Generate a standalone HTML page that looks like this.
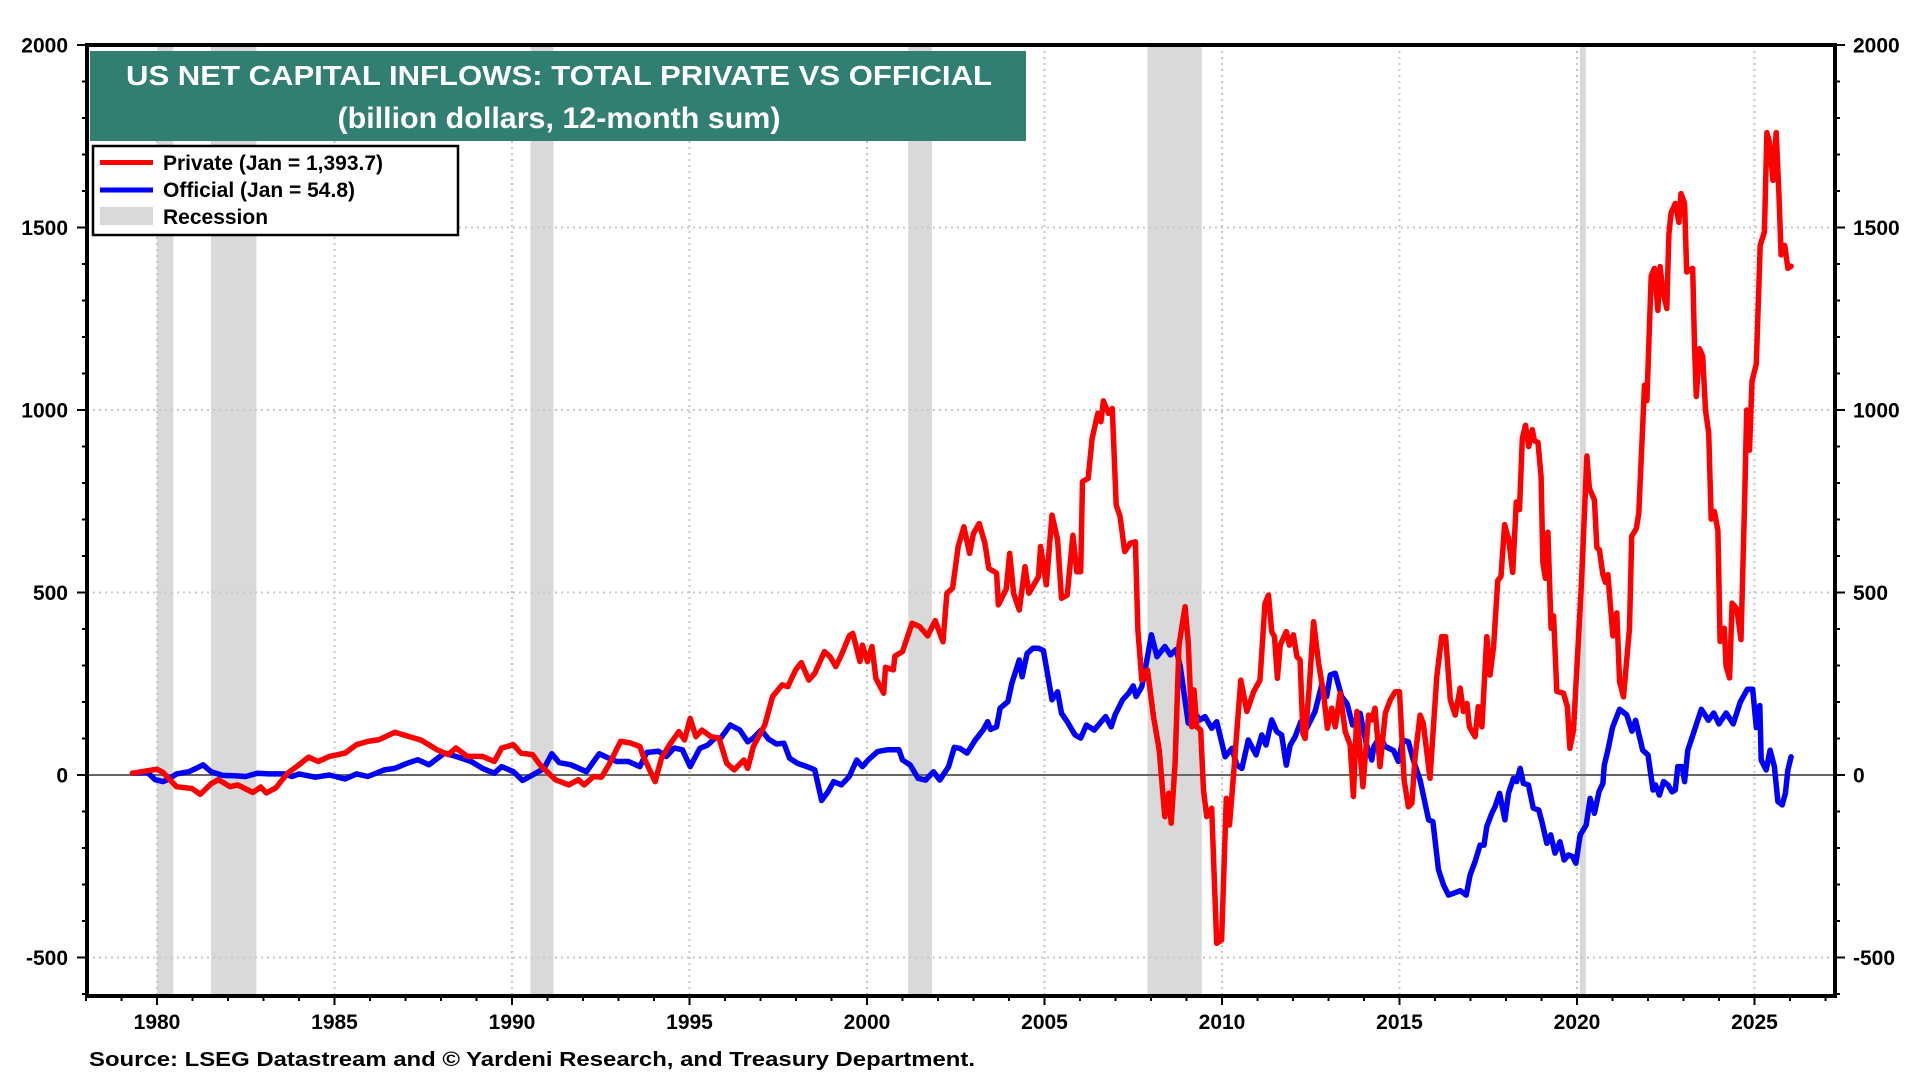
<!DOCTYPE html>
<html><head><meta charset="utf-8"><style>
html,body{margin:0;padding:0;background:#fff;width:1920px;height:1080px;overflow:hidden}
svg{display:block;font-family:"Liberation Sans",Arial,sans-serif}
</style></head><body>
<svg id="chart" width="1920" height="1080" viewBox="0 0 1920 1080" xmlns="http://www.w3.org/2000/svg"></svg>
<script>
const privYears=[1979.31,1980.0,1980.17,1980.55,1980.98,1981.22,1981.52,1981.73,1982.06,1982.27,1982.7,1982.92,1983.08,1983.35,1983.68,1984.0,1984.27,1984.54,1984.86,1985.3,1985.62,1985.94,1986.26,1986.7,1987.01,1987.45,1987.88,1988.2,1988.42,1988.74,1989.17,1989.5,1989.71,1990.04,1990.25,1990.58,1990.79,1991.22,1991.6,1991.87,1992.03,1992.3,1992.52,1992.73,1993.06,1993.33,1993.6,1993.7,1994.03,1994.21,1994.43,1994.7,1994.86,1995.02,1995.18,1995.35,1995.61,1995.83,1996.05,1996.26,1996.53,1996.64,1996.8,1997.12,1997.34,1997.61,1997.77,1997.99,1998.15,1998.36,1998.53,1998.8,1998.96,1999.12,1999.28,1999.5,1999.6,1999.8,1999.87,2000.01,2000.14,2000.25,2000.47,2000.52,2000.74,2000.79,2001.0,2001.27,2001.49,2001.71,2001.92,2002.14,2002.25,2002.41,2002.57,2002.73,2002.89,2003.0,2003.16,2003.32,2003.43,2003.65,2003.7,2003.92,2004.02,2004.13,2004.29,2004.45,2004.56,2004.83,2004.89,2005.05,2005.21,2005.37,2005.48,2005.64,2005.8,2005.91,2006.02,2006.07,2006.23,2006.34,2006.5,2006.59,2006.66,2006.8,2006.91,2007.02,2007.13,2007.26,2007.42,2007.56,2007.63,2007.74,2007.9,2008.07,2008.23,2008.39,2008.5,2008.57,2008.68,2008.79,2008.96,2009.05,2009.15,2009.21,2009.29,2009.4,2009.48,2009.57,2009.71,2009.85,2009.99,2010.12,2010.21,2010.32,2010.53,2010.7,2010.89,2011.07,2011.21,2011.31,2011.4,2011.48,2011.56,2011.64,2011.81,2011.9,2012.01,2012.11,2012.2,2012.28,2012.34,2012.46,2012.58,2012.72,2012.86,2012.97,2013.09,2013.19,2013.33,2013.47,2013.61,2013.7,2013.8,2013.97,2014.13,2014.22,2014.31,2014.45,2014.6,2014.74,2014.88,2015.0,2015.13,2015.25,2015.35,2015.44,2015.58,2015.67,2015.86,2016.05,2016.19,2016.3,2016.43,2016.57,2016.71,2016.8,2016.9,2016.97,2017.13,2017.22,2017.32,2017.46,2017.55,2017.65,2017.77,2017.86,2017.96,2018.08,2018.19,2018.29,2018.38,2018.46,2018.55,2018.64,2018.74,2018.8,2018.9,2018.99,2019.04,2019.11,2019.18,2019.27,2019.34,2019.43,2019.62,2019.73,2019.8,2019.9,2020.0,2020.12,2020.28,2020.35,2020.49,2020.56,2020.63,2020.73,2020.8,2020.87,2021.01,2021.12,2021.2,2021.31,2021.48,2021.54,2021.67,2021.74,2021.84,2021.9,2021.97,2022.09,2022.18,2022.28,2022.34,2022.42,2022.53,2022.59,2022.65,2022.77,2022.87,2022.93,2023.03,2023.09,2023.26,2023.31,2023.36,2023.45,2023.54,2023.62,2023.71,2023.78,2023.87,2023.97,2024.03,2024.06,2024.15,2024.2,2024.3,2024.37,2024.5,2024.62,2024.72,2024.78,2024.86,2024.93,2025.05,2025.16,2025.28,2025.35,2025.42,2025.52,2025.61,2025.69,2025.75,2025.85,2025.94,2026.03];
const privVals=[5,16,7,-32,-37,-53,-24,-13,-32,-27,-48,-33,-49,-35,5,28,49,37,51,60,83,92,97,117,108,95,70,56,74,51,51,37,74,83,60,56,28,-13,-27,-13,-27,-4,-6,28,92,88,78,51,-18,46,82,119,96,155,105,123,105,101,32,14,41,18,78,137,215,247,242,288,308,260,279,338,324,297,329,381,388,311,356,311,352,265,224,295,288,326,338,416,406,381,423,365,498,512,626,680,607,662,689,635,566,553,466,509,607,498,452,571,498,543,626,521,712,644,484,493,657,557,557,804,813,922,991,968,1025,991,1004,740,708,612,635,639,397,260,288,160,69,-114,-50,-132,32,356,461,361,132,233,132,123,-41,-114,-91,-461,-452,-64,-137,-4,260,174,228,260,470,493,393,379,265,356,393,356,384,324,315,114,100,242,420,306,224,128,183,132,224,119,82,-59,174,-32,164,151,183,23,169,206,228,228,-14,-87,-77,50,164,142,-9,270,379,379,206,164,238,174,196,132,105,187,132,379,274,352,533,544,686,644,555,748,727,921,958,900,946,916,911,817,581,539,665,402,436,229,224,187,73,123,300,518,874,785,754,623,617,549,528,549,381,444,256,214,402,654,675,717,932,1068,1026,1367,1388,1273,1393,1325,1278,1482,1540,1566,1514,1593,1566,1378,1388,1178,1037,1168,1147,1000,937,701,722,670,366,397,402,298,266,471,455,371,748,1000,890,1079,1126,1451,1488,1760,1734,1629,1760,1587,1425,1451,1388,1394];
const offYears=[1979.31,1979.73,1979.95,1980.17,1980.3,1980.55,1980.9,1981.1,1981.3,1981.52,1981.85,1982.17,1982.5,1982.83,1983.15,1983.6,1983.8,1984.0,1984.46,1984.86,1985.3,1985.62,1985.94,1986.4,1986.7,1987.01,1987.35,1987.66,1988.1,1988.42,1988.85,1989.17,1989.5,1989.71,1990.04,1990.3,1990.58,1990.9,1991.12,1991.33,1991.66,1992.1,1992.3,1992.46,1992.73,1992.95,1993.28,1993.6,1993.8,1994.13,1994.35,1994.57,1994.8,1995.02,1995.29,1995.51,1995.72,1995.88,1996.15,1996.42,1996.64,1996.8,1997.02,1997.23,1997.45,1997.66,1997.82,1998.04,1998.31,1998.53,1998.72,1998.9,1999.06,1999.28,1999.5,1999.71,1999.87,2000.03,2000.3,2000.57,2000.9,2001.0,2001.22,2001.44,2001.65,2001.87,2002.05,2002.3,2002.46,2002.62,2002.82,2003.05,2003.27,2003.4,2003.48,2003.65,2003.75,2003.97,2004.08,2004.29,2004.37,2004.51,2004.67,2004.83,2004.97,2005.1,2005.21,2005.37,2005.48,2005.64,2005.86,2006.02,2006.18,2006.4,2006.56,2006.72,2006.88,2006.99,2007.2,2007.37,2007.5,2007.58,2007.74,2007.85,2008.01,2008.17,2008.39,2008.55,2008.71,2008.82,2009.05,2009.2,2009.38,2009.52,2009.71,2009.85,2010.09,2010.28,2010.42,2010.56,2010.74,2010.96,2011.12,2011.24,2011.4,2011.54,2011.68,2011.81,2011.92,2012.06,2012.22,2012.31,2012.48,2012.62,2012.81,2012.95,2013.05,2013.19,2013.37,2013.52,2013.68,2013.89,2014.06,2014.22,2014.28,2014.45,2014.6,2014.83,2014.97,2015.09,2015.25,2015.39,2015.58,2015.82,2015.94,2016.1,2016.24,2016.38,2016.52,2016.71,2016.88,2016.99,2017.13,2017.27,2017.38,2017.46,2017.6,2017.69,2017.82,2017.97,2018.07,2018.21,2018.3,2018.4,2018.49,2018.63,2018.77,2018.92,2019.01,2019.15,2019.26,2019.38,2019.52,2019.64,2019.76,2019.88,2019.97,2020.09,2020.26,2020.37,2020.49,2020.62,2020.73,2020.77,2020.87,2021.0,2021.2,2021.4,2021.55,2021.65,2021.85,2022.0,2022.14,2022.21,2022.32,2022.44,2022.56,2022.68,2022.77,2022.84,2022.96,2023.03,2023.12,2023.3,2023.5,2023.7,2023.85,2024.0,2024.2,2024.4,2024.6,2024.8,2024.95,2025.05,2025.15,2025.19,2025.33,2025.44,2025.56,2025.66,2025.78,2025.87,2025.94,2026.03];
const offVals=[5,7,-13,-18,-13,3,9,18,28,9,-1,-2,-4,5,3,3,-4,3,-6,0,-11,3,-4,14,18,31,42,28,60,51,37,18,5,23,9,-15,0,18,58,34,28,9,37,58,46,37,37,23,62,65,51,74,69,23,73,82,101,101,137,123,91,101,123,98,85,87,46,32,23,14,-70,-46,-18,-27,-4,41,23,41,64,69,69,41,27,-9,-14,9,-14,23,76,73,60,96,123,146,125,132,183,201,251,315,269,333,347,347,341,269,206,228,169,146,110,101,137,123,142,160,132,165,206,224,244,215,242,297,384,324,352,329,344,300,142,174,151,160,128,146,50,73,27,18,96,55,110,82,151,119,110,27,82,105,146,114,146,174,247,215,274,279,215,196,137,169,87,41,78,105,78,67,37,96,91,41,-14,-123,-128,-260,-301,-329,-324,-317,-329,-274,-237,-192,-192,-141,-105,-87,-50,-123,-50,-9,-18,18,-23,-27,-91,-96,-128,-187,-164,-214,-183,-233,-219,-224,-242,-164,-137,-64,-105,-46,-23,27,68,130,180,165,120,150,68,55,-41,-27,-55,-18,-27,-46,-41,23,23,-18,68,120,180,150,170,140,170,140,200,235,235,130,190,41,14,68,23,-73,-82,-50,14,50];
const recStarts=[1980.0,1981.52,1990.52,2001.16,2007.9,2020.08];
const recEnds=[1980.46,1982.8,1991.17,2001.83,2009.43,2020.25];
const yTicks=[-500,0,500,1000,1500,2000];
const yTickLabels=["-500","0","500","1000","1500","2000"];
const xTicks=[1980,1985,1990,1995,2000,2005,2010,2015,2020,2025];
const xTickLabels=["1980","1985","1990","1995","2000","2005","2010","2015","2020","2025"];

const L=87,R=1835,T=45,B=996;
const X0=1980,XPX=157,XS=35.5;
function xScale(yr){return XPX+(yr-X0)*XS;}
function yScale(v){return 775-v*0.365;}
const svg=document.getElementById('chart');
const NS='http://www.w3.org/2000/svg';
function mk(tag,attrs,parent){const e=document.createElementNS(NS,tag);for(const k in attrs)e.setAttribute(k,attrs[k]);(parent||svg).appendChild(e);return e;}

for(let i=0;i<recStarts.length;i++){
  const r=mk('rect',{x:xScale(recStarts[i]),y:T,width:xScale(recEnds[i])-xScale(recStarts[i]),height:B-T,fill:'#d9d9d9'});
  
  
}
for(const v of yTicks){
  if(v===0||v===2000)continue;
  const g=mk('line',{x1:L,x2:R,y1:yScale(v),y2:yScale(v),stroke:'#c8c8c8','stroke-width':2,'stroke-dasharray':'2,4'});
  
  
}
for(const yr of xTicks){
  const g=mk('line',{x1:xScale(yr),x2:xScale(yr),y1:T,y2:B,stroke:'#c8c8c8','stroke-width':2,'stroke-dasharray':'2,4'});
  
  
}
const zl=mk('line',{x1:L,x2:R,y1:yScale(0),y2:yScale(0),stroke:'#666','stroke-width':2});



function path(years,vals,color){
  let d='';
  for(let i=0;i<years.length;i++){d+=(i?'L':'M')+xScale(years[i]).toFixed(1)+','+yScale(vals[i]).toFixed(1);}
  return mk('path',{d:d,fill:'none',stroke:color,'stroke-width':5.5,'stroke-linejoin':'round','stroke-linecap':'round'});
}
const po=path(offYears,offVals,'#0000ff');


const pp=path(privYears,privVals,'#ff0000');



const fr=mk('rect',{x:L,y:T,width:R-L,height:B-T,fill:'none',stroke:'#000','stroke-width':4});


for(let v=-600;v<=2000;v+=100){
  const maj=(v%500===0);
  const len=maj?10:5;
  const t1=mk('line',{x1:L-len,x2:L,y1:yScale(v),y2:yScale(v),stroke:'#000','stroke-width':2});
  
  
  const t2=mk('line',{x1:R,x2:R+len,y1:yScale(v),y2:yScale(v),stroke:'#000','stroke-width':2});
  
  
}
for(let i=0;i<yTicks.length;i++){
  const a=mk('text',{x:68,y:yScale(yTicks[i])+7.5,'text-anchor':'end','font-size':21,'font-weight':'bold',fill:'#000'});
  a.textContent=yTickLabels[i];
  
  
  const b=mk('text',{x:1853,y:yScale(yTicks[i])+7.5,'text-anchor':'start','font-size':21,'font-weight':'bold',fill:'#000'});
  b.textContent=yTickLabels[i];
  
  
}
for(let yr=1978;yr<=2027;yr++){
  const maj=(yr%5===0);
  const t=mk('line',{x1:xScale(yr),x2:xScale(yr),y1:B,y2:B+(maj?9:5),stroke:'#000','stroke-width':2});
  
  
}
for(let i=0;i<xTicks.length;i++){
  const a=mk('text',{x:xScale(xTicks[i]),y:1029,'text-anchor':'middle','font-size':21,'font-weight':'bold',fill:'#000'});
  a.textContent=xTickLabels[i];
  
  
}
const tb=mk('rect',{x:90,y:51,width:936,height:90,fill:'#317f73'});


const t1=mk('text',{x:559,y:85,'text-anchor':'middle','font-size':28,'font-weight':'bold',fill:'#fff',textLength:866,lengthAdjust:'spacingAndGlyphs'});
t1.textContent='US NET CAPITAL INFLOWS: TOTAL PRIVATE VS OFFICIAL';


const t2=mk('text',{x:559,y:128,'text-anchor':'middle','font-size':30,'font-weight':'bold',fill:'#fff',textLength:443,lengthAdjust:'spacingAndGlyphs'});
t2.textContent='(billion dollars, 12-month sum)';


const lg=mk('rect',{x:93,y:146,width:365,height:89,fill:'#fff',stroke:'#000','stroke-width':2.5});


const l1=mk('line',{x1:100,x2:153,y1:162.5,y2:162.5,stroke:'#ff0000','stroke-width':5});


const l2=mk('line',{x1:100,x2:153,y1:190,y2:190,stroke:'#0000ff','stroke-width':5});


const l3=mk('rect',{x:100,y:207,width:53,height:18,fill:'#d9d9d9'});


const lt=[['Private (Jan = 1,393.7)',170],['Official (Jan = 54.8)',197],['Recession',224]];
const ln=['legend-private','legend-official','legend-recession'];
for(let i=0;i<3;i++){
  const e=mk('text',{x:163,y:lt[i][1],'font-size':21,'font-weight':'bold',fill:'#000'});
  e.textContent=lt[i][0];
  
  
}
const src=mk('text',{x:89,y:1066,'font-size':20,'font-weight':'bold',fill:'#000',textLength:886,lengthAdjust:'spacingAndGlyphs'});
src.textContent='Source: LSEG Datastream and © Yardeni Research, and Treasury Department.';


</script>
</body></html>
